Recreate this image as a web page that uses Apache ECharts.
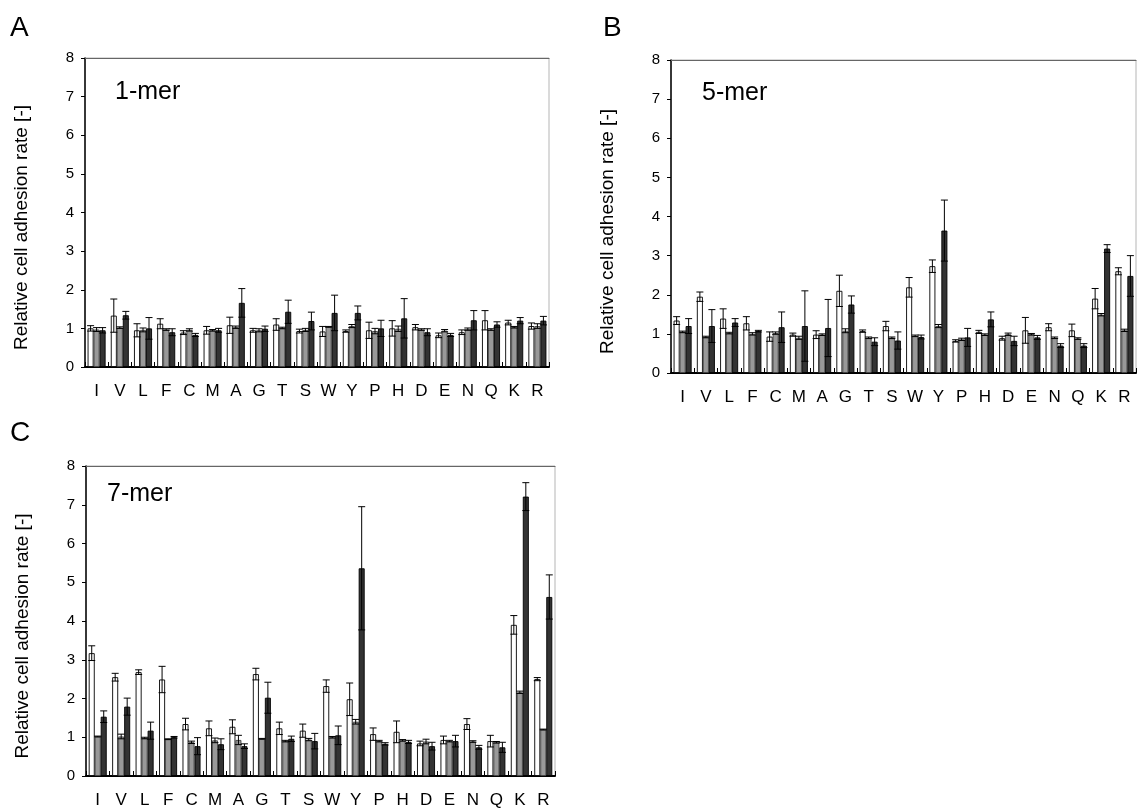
<!DOCTYPE html>
<html>
<head>
<meta charset="utf-8">
<script src="https://cdn.jsdelivr.net/npm/echarts@6/dist/echarts.min.js"></script>
<style>
html,body{margin:0;padding:0;background:#fff;}
#c{width:1137px;height:809px;}
</style>
</head>
<body>
<div id="c"></div>
<script>
// ---------- data ----------
const categories = ['I','V','L','F','C','M','A','G','T','S','W','Y','P','H','D','E','N','Q','K','R'];
const yTicks = [0,1,2,3,4,5,6,7,8];

// Panel A: 1-mer
const a1mer_white     = [1.00,1.33,0.95,1.12,0.89,0.95,1.08,0.95,1.10,0.93,0.92,0.93,0.95,1.00,1.03,0.82,0.90,1.21,1.15,1.06];
const a1mer_white_err = [0.07,0.43,0.17,0.13,0.05,0.10,0.21,0.05,0.15,0.05,0.13,0.03,0.21,0.20,0.07,0.06,0.06,0.25,0.06,0.08];
const a1mer_gray      = [0.97,1.02,0.96,0.97,0.96,0.95,1.03,0.95,1.01,0.96,1.04,1.06,0.93,0.99,0.97,0.94,0.98,0.97,1.03,1.06];
const a1mer_gray_err  = [0.05,0.02,0.05,0.02,0.03,0.02,0.03,0.04,0.02,0.04,0.01,0.04,0.07,0.07,0.02,0.03,0.03,0.02,0.02,0.06];
const a1mer_dark      = [0.95,1.34,1.00,0.90,0.83,0.95,1.66,0.99,1.43,1.19,1.40,1.40,1.00,1.26,0.90,0.83,1.21,1.10,1.20,1.20];
const a1mer_dark_err  = [0.07,0.10,0.28,0.09,0.04,0.05,0.37,0.07,0.30,0.23,0.46,0.18,0.21,0.51,0.09,0.04,0.25,0.07,0.08,0.11];

// Panel B: 5-mer
const b5mer_white     = [1.34,1.95,1.39,1.27,0.93,0.98,0.98,2.10,1.07,1.20,2.19,2.73,0.82,1.05,0.89,1.09,1.17,1.09,1.90,2.60];
const b5mer_white_err = [0.10,0.12,0.25,0.17,0.12,0.04,0.10,0.40,0.03,0.12,0.25,0.16,0.03,0.04,0.05,0.33,0.09,0.16,0.26,0.09];
const b5mer_gray      = [1.05,0.92,1.02,1.00,1.02,0.90,0.98,1.08,0.90,0.90,0.95,1.20,0.86,0.98,0.99,0.99,0.90,0.88,1.49,1.09];
const b5mer_gray_err  = [0.02,0.02,0.02,0.03,0.03,0.04,0.02,0.05,0.02,0.02,0.02,0.04,0.03,0.02,0.03,0.02,0.02,0.02,0.03,0.03];
const b5mer_dark      = [1.20,1.20,1.29,1.07,1.17,1.20,1.15,1.75,0.80,0.83,0.92,3.64,0.91,1.37,0.82,0.91,0.70,0.70,3.18,2.48];
const b5mer_dark_err  = [0.19,0.42,0.10,0.02,0.39,0.90,0.73,0.22,0.10,0.22,0.05,0.78,0.23,0.19,0.12,0.05,0.05,0.05,0.10,0.52];

// Panel C: 7-mer
const c7mer_white     = [3.17,2.55,2.68,2.49,1.34,1.23,1.27,2.63,1.23,1.17,2.32,1.98,1.08,1.14,0.84,0.93,1.34,0.90,3.90,2.50];
const c7mer_white_err = [0.19,0.10,0.06,0.34,0.15,0.19,0.18,0.15,0.16,0.17,0.16,0.42,0.16,0.28,0.06,0.10,0.14,0.15,0.24,0.04];
const c7mer_gray      = [1.02,1.02,0.98,0.95,0.87,0.92,0.93,0.96,0.90,0.94,1.00,1.40,0.90,0.92,0.89,0.90,0.89,0.87,2.16,1.20];
const c7mer_gray_err  = [0.01,0.06,0.02,0.01,0.03,0.06,0.12,0.01,0.02,0.03,0.02,0.06,0.02,0.02,0.06,0.02,0.02,0.02,0.03,0.01];
const c7mer_dark      = [1.53,1.79,1.17,1.00,0.77,0.82,0.77,2.02,0.96,0.90,1.05,5.36,0.83,0.88,0.77,0.90,0.74,0.74,7.21,4.62];
const c7mer_dark_err  = [0.15,0.22,0.22,0.02,0.22,0.14,0.06,0.40,0.07,0.20,0.24,1.59,0.03,0.04,0.10,0.15,0.05,0.13,0.36,0.57];

// ---------- layout / style ----------
const panels = [
  {letter:'A', label:'1-mer', grid:{left:85, top:58, width:464, height:309}, letterPos:[10,28], labelPos:[115,94],
   white:a1mer_white, whiteErr:a1mer_white_err, gray:a1mer_gray, grayErr:a1mer_gray_err, dark:a1mer_dark, darkErr:a1mer_dark_err},
  {letter:'B', label:'5-mer', grid:{left:671, top:60, width:465, height:313}, letterPos:[603,28], labelPos:[702,95],
   white:b5mer_white, whiteErr:b5mer_white_err, gray:b5mer_gray, grayErr:b5mer_gray_err, dark:b5mer_dark, darkErr:b5mer_dark_err},
  {letter:'C', label:'7-mer', grid:{left:86, top:466, width:469, height:312}, letterPos:[10,433], labelPos:[107,496],
   white:c7mer_white, whiteErr:c7mer_white_err, gray:c7mer_gray, grayErr:c7mer_gray_err, dark:c7mer_dark, darkErr:c7mer_dark_err}
];

const BW = 6;
const FONT = 'Liberation Sans, Arial, sans-serif';
const barStyles = [
  {color:'#ffffff', borderColor:'#000000', borderWidth:0.9},
  {color:'#999999', borderColor:'#444444', borderWidth:0.9},
  {color:'#333333', borderColor:'#000000', borderWidth:0.9}
];

const grids = [], xAxes = [], yAxes = [], series = [], graphics = [];

panels.forEach((p, i) => {
  grids.push(Object.assign({show:true, borderColor:'#b5b5b5', borderWidth:1, backgroundColor:'transparent', containLabel:false}, p.grid));
  xAxes.push({
    type:'category', gridIndex:i, data:categories, position:'bottom',
    axisLine:{lineStyle:{color:'#000', width:2}},
    axisTick:{show:true, inside:true, length:5, lineStyle:{color:'#000', width:1}},
    axisLabel:{color:'#000', fontSize:17, fontFamily:FONT, margin:16, interval:0},
    splitLine:{show:false}
  });
  xAxes.push({
    type:'category', gridIndex:i, data:categories, position:'top',
    axisLine:{lineStyle:{color:'#666', width:1}},
    axisTick:{show:false}, axisLabel:{show:false}, splitLine:{show:false}
  });
  yAxes.push({
    type:'value', gridIndex:i, min:0, max:8, interval:1,
    name:'Relative cell adhesion rate [-]', nameLocation:'middle', nameGap:54,
    nameTextStyle:{color:'#000', fontSize:19, fontFamily:FONT, padding:[0,30,0,0]},
    axisLine:{show:true, lineStyle:{color:'#000', width:1.5}},
    axisTick:{show:true, inside:false, length:4, lineStyle:{color:'#000', width:1}},
    axisLabel:{color:'#000', fontSize:15, fontFamily:FONT, margin:11,
      formatter:(v)=> yTicks.indexOf(v) >= 0 ? String(v) : ''},
    splitLine:{show:false}
  });
  const xi = i*2;
  const groups = [[p.white,p.whiteErr],[p.gray,p.grayErr],[p.dark,p.darkErr]];
  groups.forEach((g, si) => {
    series.push({
      type:'bar', xAxisIndex:xi, yAxisIndex:i, data:g[0], barWidth:BW, barGap:'0%',
      itemStyle:barStyles[si], silent:true, animation:false, z:2
    });
  });
  const errData = [];
  groups.forEach((g, si) => {
    g[0].forEach((v, ci) => errData.push([ci, si, v, g[1][ci]]));
  });
  series.push({
    type:'custom', xAxisIndex:xi, yAxisIndex:i, data:errData, z:5, animation:false, silent:true,
    encode:{x:0, y:2},
    renderItem:function(params, api){
      const ci = api.value(0), si = api.value(1), v = api.value(2), e = api.value(3);
      const c = api.coord([ci, v]);
      const x = c[0] + (si - 1) * BW;
      const yt = api.coord([ci, v + e])[1];
      const yb = api.coord([ci, Math.max(0, v - e)])[1];
      const hw = 3.5;
      const st = {stroke:'#000', lineWidth:1};
      return {type:'group', children:[
        {type:'line', shape:{x1:x, y1:yt, x2:x, y2:yb}, style:st},
        {type:'line', shape:{x1:x-hw, y1:yt, x2:x+hw, y2:yt}, style:st},
        {type:'line', shape:{x1:x-hw, y1:yb, x2:x+hw, y2:yb}, style:st}
      ]};
    }
  });
  graphics.push({type:'text', left:p.letterPos[0], top:p.letterPos[1]-14, style:{text:p.letter, font:'28px ' + FONT, fill:'#000'}});
  graphics.push({type:'text', left:p.labelPos[0], top:p.labelPos[1]-14, style:{text:p.label, font:'25px ' + FONT, fill:'#000'}});
});

const chart = echarts.init(document.getElementById('c'), null, {renderer:'canvas'});
chart.setOption({
  backgroundColor:'#fff',
  animation:false,
  grid:grids, xAxis:xAxes, yAxis:yAxes, series:series, graphic:graphics
});
</script>
</body>
</html>
